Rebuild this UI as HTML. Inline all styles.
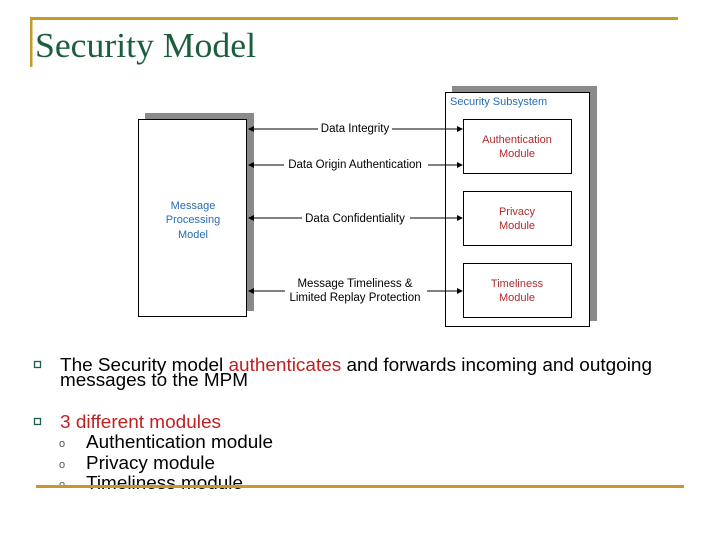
<!DOCTYPE html>
<html><head><meta charset="utf-8"><style>
html,body{margin:0;padding:0;background:#fff;}
svg{display:block;}
</style></head><body>
<svg width="720" height="540" viewBox="0 0 720 540" xmlns="http://www.w3.org/2000/svg" font-family="Liberation Sans, Arial, sans-serif">
<rect width="720" height="540" fill="#fff"/>
<rect x="30" y="17" width="648" height="3" fill="#c49a2a"/>
<rect x="30" y="17" width="2.5" height="50" fill="#c49a2a"/>
<text x="35" y="57" font-family="Liberation Serif, serif" font-size="35" fill="#1b5e3c" textLength="221" lengthAdjust="spacingAndGlyphs">Security Model</text>
<rect x="145" y="113" width="109" height="198" fill="#8a8a8a"/>
<rect x="138.5" y="119.5" width="108" height="197" fill="#fff" stroke="#000" stroke-width="1"/>
<g font-size="11" fill="#2b6cb0" text-anchor="middle">
<text x="193" y="209">Message</text>
<text x="193" y="223">Processing</text>
<text x="193" y="238">Model</text>
</g>
<rect x="452" y="86" width="145" height="235" fill="#8a8a8a"/>
<rect x="445.5" y="92.5" width="144" height="234" fill="#fff" stroke="#000" stroke-width="1"/>
<text x="450" y="105" font-size="11" fill="#2b6cb0">Security Subsystem</text>
<g fill="#fff" stroke="#000" stroke-width="1">
<rect x="463.5" y="119.5" width="108" height="54"/>
<rect x="463.5" y="191.5" width="108" height="54"/>
<rect x="463.5" y="263.5" width="108" height="54"/>
</g>
<g font-size="11" fill="#b02a2a" text-anchor="middle">
<text x="517" y="143">Authentication</text>
<text x="517" y="157">Module</text>
<text x="517" y="215">Privacy</text>
<text x="517" y="229">Module</text>
<text x="517" y="287">Timeliness</text>
<text x="517" y="301">Module</text>
</g>
<g stroke="#000" stroke-width="1">
<line x1="250" y1="129" x2="318" y2="129"/><line x1="392" y1="129" x2="460" y2="129"/>
<line x1="250" y1="165" x2="284" y2="165"/><line x1="428" y1="165" x2="460" y2="165"/>
<line x1="250" y1="218" x2="302" y2="218"/><line x1="410" y1="218" x2="460" y2="218"/>
<line x1="250" y1="291" x2="285" y2="291"/><line x1="427" y1="291" x2="460" y2="291"/>
</g>
<g fill="#000">
<polygon points="248,129 254,126 254,132"/><polygon points="463,129 457,126 457,132"/>
<polygon points="248,165 254,162 254,168"/><polygon points="463,165 457,162 457,168"/>
<polygon points="248,218 254,215 254,221"/><polygon points="463,218 457,215 457,221"/>
<polygon points="248,291 254,288 254,294"/><polygon points="463,291 457,288 457,294"/>
</g>
<g font-size="11.5" fill="#000" text-anchor="middle">
<text x="355" y="132">Data Integrity</text>
<text x="355" y="168">Data Origin Authentication</text>
<text x="355" y="222">Data Confidentiality</text>
<text x="355" y="287">Message Timeliness &amp;</text>
<text x="355" y="301">Limited Replay Protection</text>
</g>
<rect x="34.5" y="361.5" width="6" height="6" fill="none" stroke="#1b5e4a" stroke-width="1.3"/>
<rect x="34.5" y="418.5" width="6" height="6" fill="none" stroke="#1b5e4a" stroke-width="1.3"/>
<g font-size="18" fill="#000" lengthAdjust="spacingAndGlyphs">
<text x="60" y="371" textLength="592" lengthAdjust="spacingAndGlyphs">The Security model <tspan fill="#c02020">authenticates</tspan> and forwards incoming and outgoing</text>
<text x="60" y="386" textLength="188" lengthAdjust="spacingAndGlyphs">messages to the MPM</text>
<text x="60" y="428" fill="#c02020" textLength="161" lengthAdjust="spacingAndGlyphs">3 different modules</text>
<text x="86" y="448" textLength="187" lengthAdjust="spacingAndGlyphs">Authentication module</text>
<text x="86" y="469" textLength="129" lengthAdjust="spacingAndGlyphs">Privacy module</text>
<text x="86" y="489" textLength="157" lengthAdjust="spacingAndGlyphs">Timeliness module</text>
</g>
<g font-size="11" fill="#555">
<text x="59" y="447">o</text><text x="59" y="468">o</text><text x="59" y="488">o</text>
</g>
<rect x="36" y="485" width="648" height="3" fill="#c49a2a"/>
</svg>
</body></html>
